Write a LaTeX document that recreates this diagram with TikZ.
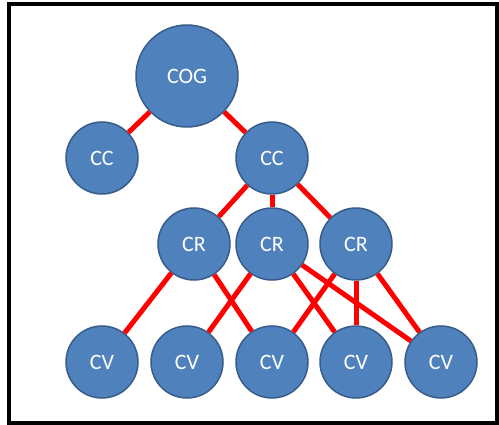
\documentclass[tikz,border=0pt]{standalone}
\usepackage{fontspec}
\setmainfont{Carlito}
\definecolor{nodefill}{HTML}{4F81BD}
\definecolor{nodeline}{HTML}{385D8A}
\begin{document}
\begin{tikzpicture}[x=1pt,y=-1pt,
  circ/.style={circle,fill=nodefill,draw=nodeline,line width=1.5pt,minimum size=72pt,inner sep=0pt,text=white,font=\fontsize{22}{26}\selectfont},
  big/.style={circ,minimum size=102pt},
  link/.style={red,line width=5pt}]
\useasboundingbox (0,0) rectangle (499,425);
\fill[white] (0,0) rectangle (499,425);
\draw[line width=4pt] (9,4) rectangle (497,423.5);
\node[big] (cog) at (187,76) {COG};
\node[circ] (cc1) at (102,158) {CC};
\node[circ] (cc2) at (272,158) {CC};
\node[circ] (cr1) at (194,244) {CR};
\node[circ] (cr2) at (272,244) {CR};
\node[circ] (cr3) at (356,244) {CR};
\node[circ] (cv1) at (102,362) {CV};
\node[circ] (cv2) at (187,362) {CV};
\node[circ] (cv3) at (272,362) {CV};
\node[circ] (cv4) at (356,362) {CV};
\node[circ] (cv5) at (441,362) {CV};
\begin{scope}[on background layer/.style={}]
\end{scope}
\foreach \a/\b in {cog/cc1,cog/cc2,cc2/cr1,cc2/cr2,cc2/cr3,cr1/cv1,cr1/cv3,cr2/cv2,cr2/cv4,cr2/cv5,cr3/cv3,cr3/cv4,cr3/cv5}
  \draw[link] (\a) -- (\b);
\end{tikzpicture}
\end{document}
